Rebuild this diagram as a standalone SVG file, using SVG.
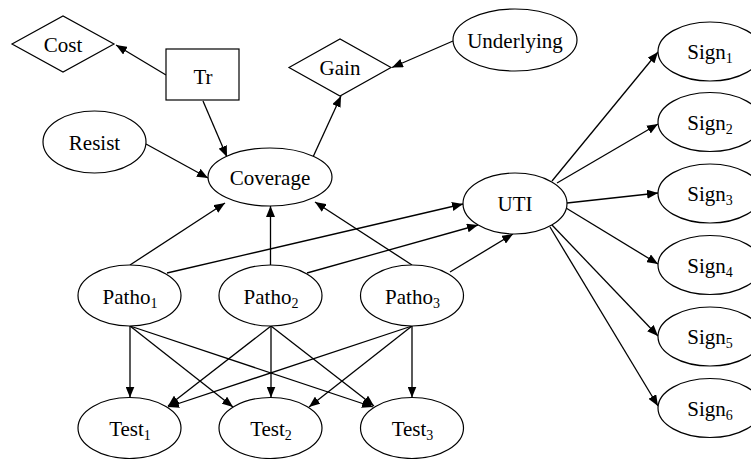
<svg xmlns="http://www.w3.org/2000/svg" width="751" height="459" viewBox="0 0 751 459">
<style>
.n{fill:#fff;stroke:#000;stroke-width:1.2}
.t{font-family:"Liberation Serif","Times New Roman",serif;font-size:21px;fill:#000;text-anchor:middle}
.s{font-size:14px}
.e line{stroke:#000;stroke-width:1.3;marker-end:url(#ah)}
</style>
<defs>
<marker id="ah" markerUnits="userSpaceOnUse" markerWidth="11" markerHeight="9" viewBox="0 0 11 9" refX="11" refY="4.5" orient="auto">
<path d="M0,0 L11,4.5 L0,9 z" fill="#000"/>
</marker>
</defs>
<rect width="751" height="459" fill="#fff"/>
<g class="e">
<line x1="166" y1="75" x2="116" y2="45"/>
<line x1="203" y1="101" x2="227" y2="157"/>
<line x1="146" y1="144" x2="208" y2="178"/>
<line x1="313" y1="157" x2="341" y2="96"/>
<line x1="453" y1="41" x2="392" y2="67.5"/>
<line x1="130" y1="265" x2="225" y2="203"/>
<line x1="270.5" y1="265" x2="270.5" y2="206"/>
<line x1="412" y1="265" x2="315" y2="202"/>
<line x1="167" y1="273" x2="463" y2="204"/>
<line x1="307" y1="273" x2="478" y2="225"/>
<line x1="450" y1="272" x2="513" y2="234"/>
<line x1="552" y1="181" x2="658" y2="52"/>
<line x1="557" y1="183" x2="658" y2="124"/>
<line x1="567" y1="203" x2="658" y2="193"/>
<line x1="566" y1="208" x2="658" y2="264"/>
<line x1="552" y1="225" x2="658" y2="336"/>
<line x1="550" y1="227" x2="658" y2="406"/>
<line x1="130" y1="326" x2="130" y2="397.5"/>
<line x1="130" y1="326" x2="233" y2="407"/>
<line x1="130" y1="326" x2="373" y2="407"/>
<line x1="271" y1="326" x2="168" y2="406"/>
<line x1="271" y1="326" x2="271" y2="397.5"/>
<line x1="271" y1="326" x2="374" y2="406"/>
<line x1="412" y1="326" x2="168" y2="407"/>
<line x1="412" y1="326" x2="309" y2="407"/>
<line x1="412" y1="326" x2="412" y2="397.5"/>
</g>
<g id="Cost"><polygon class="n" points="12,44 63,16 114,44 63,72"/><text class="t" x="63" y="52">Cost</text></g>
<g id="Tr"><rect class="n" x="166" y="49" width="73" height="51"/><text class="t" x="203" y="84">Tr</text></g>
<g id="Gain"><polygon class="n" points="289,67.5 340,39 391,67.5 340,96"/><text class="t" x="340" y="75">Gain</text></g>
<g id="Underlying"><ellipse class="n" cx="515" cy="40" rx="62" ry="31"/><text class="t" x="515" y="47.5">Underlying</text></g>
<g id="Resist"><ellipse class="n" cx="94.5" cy="142" rx="51.5" ry="31"/><text class="t" x="94.5" y="149.5">Resist</text></g>
<g id="Coverage"><ellipse class="n" cx="270" cy="177" rx="62" ry="29"/><text class="t" x="270" y="184.5">Coverage</text></g>
<g id="UTI"><ellipse class="n" cx="515" cy="203.5" rx="52" ry="30.5"/><text class="t" x="515" y="211">UTI</text></g>
<g id="Patho1"><ellipse class="n" cx="129.5" cy="295.5" rx="51.5" ry="30.5"/><text class="t" x="130" y="303.5">Patho<tspan class="s" dy="4">1</tspan></text></g>
<g id="Patho2"><ellipse class="n" cx="270.5" cy="295.5" rx="51.5" ry="30.5"/><text class="t" x="271" y="303.5">Patho<tspan class="s" dy="4">2</tspan></text></g>
<g id="Patho3"><ellipse class="n" cx="412" cy="295.5" rx="51.5" ry="30.5"/><text class="t" x="412.5" y="303.5">Patho<tspan class="s" dy="4">3</tspan></text></g>
<g id="Test1"><ellipse class="n" cx="129.5" cy="428" rx="51.5" ry="30.5"/><text class="t" x="130" y="436">Test<tspan class="s" dy="4">1</tspan></text></g>
<g id="Test2"><ellipse class="n" cx="270.5" cy="428" rx="51.5" ry="30.5"/><text class="t" x="271" y="436">Test<tspan class="s" dy="4">2</tspan></text></g>
<g id="Test3"><ellipse class="n" cx="412" cy="428" rx="51.5" ry="30.5"/><text class="t" x="412.5" y="436">Test<tspan class="s" dy="4">3</tspan></text></g>
<g id="Sign1"><ellipse class="n" cx="710" cy="51.5" rx="52" ry="29.5"/><text class="t" x="710" y="59">Sign<tspan class="s" dy="4">1</tspan></text></g>
<g id="Sign2"><ellipse class="n" cx="710" cy="122" rx="52" ry="29.5"/><text class="t" x="710" y="129.5">Sign<tspan class="s" dy="4">2</tspan></text></g>
<g id="Sign3"><ellipse class="n" cx="710" cy="193.5" rx="52" ry="29.5"/><text class="t" x="710" y="201">Sign<tspan class="s" dy="4">3</tspan></text></g>
<g id="Sign4"><ellipse class="n" cx="710" cy="265" rx="52" ry="29.5"/><text class="t" x="710" y="272.5">Sign<tspan class="s" dy="4">4</tspan></text></g>
<g id="Sign5"><ellipse class="n" cx="710" cy="336.5" rx="52" ry="29.5"/><text class="t" x="710" y="344">Sign<tspan class="s" dy="4">5</tspan></text></g>
<g id="Sign6"><ellipse class="n" cx="710" cy="408" rx="52" ry="29.5"/><text class="t" x="710" y="415.5">Sign<tspan class="s" dy="4">6</tspan></text></g>
</svg>
